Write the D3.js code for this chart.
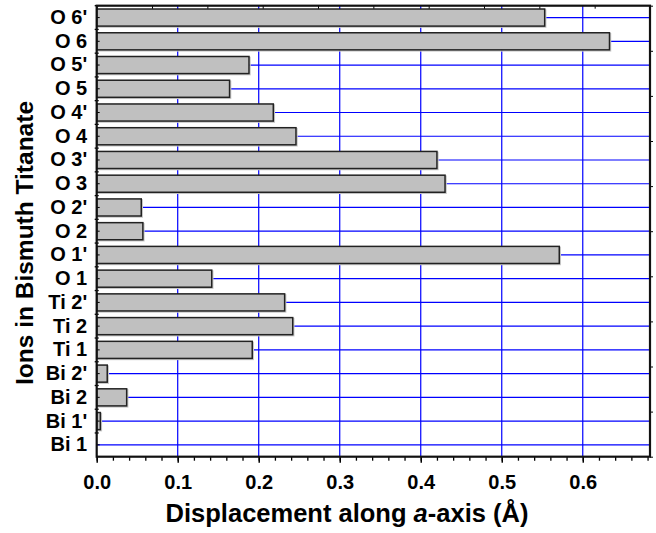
<!DOCTYPE html>
<html>
<head>
<meta charset="utf-8">
<script src="https://cdn.jsdelivr.net/npm/d3@7"></script>
<style>
  body { margin: 0; background: #fff; }
  text { font-family: "Liberation Sans", Arial, sans-serif; font-weight: bold; }
</style>
</head>
<body>
<div id="chart"></div>
<script>
// ions, top to bottom as in the picture
var ions = ["O 6'", "O 6", "O 5'", "O 5", "O 4'", "O 4", "O 3'", "O 3", "O 2'", "O 2",
            "O 1'", "O 1", "Ti 2'", "Ti 2", "Ti 1", "Bi 2'", "Bi 2", "Bi 1'", "Bi 1"];

// displacement along a-axis (Angstrom)
var displacement = [0.553, 0.633, 0.188, 0.164, 0.218, 0.246, 0.420, 0.430, 0.055, 0.057,
                    0.571, 0.142, 0.232, 0.242, 0.192, 0.013, 0.037, 0.0045, 0.0];

var xMajorTicks = [0.0, 0.1, 0.2, 0.3, 0.4, 0.5, 0.6];
var xMinorTicks = [0.00, 0.02, 0.04, 0.06, 0.08, 0.10, 0.12, 0.14, 0.16, 0.18, 0.20, 0.22,
                   0.24, 0.26, 0.28, 0.30, 0.32, 0.34, 0.36, 0.38, 0.40, 0.42, 0.44, 0.46,
                   0.48, 0.50, 0.52, 0.54, 0.56, 0.58, 0.60, 0.62, 0.64, 0.66, 0.68];
var xMax = 0.683;

var width = 656, height = 533;
var plotLeft = 96.7, plotRight = 650, plotTop = 5.7, plotBottom = 456.7;

var svg = d3.select("#chart").append("svg")
    .attr("width", width)
    .attr("height", height);

var x = d3.scaleLinear().domain([0, xMax]).range([plotLeft, plotRight]);
var y = d3.scaleBand().domain(ions).range([plotTop, plotBottom])
    .paddingInner(0.28).paddingOuter(0.14);

// vertical grid lines
svg.append("g").selectAll("line")
    .data(xMajorTicks.slice(1))
    .enter().append("line")
      .attr("x1", function(d) { return x(d); })
      .attr("x2", function(d) { return x(d); })
      .attr("y1", plotTop)
      .attr("y2", plotBottom)
      .attr("stroke", "#0000ff")
      .attr("stroke-width", 1.2);

// horizontal grid lines through each row
svg.append("g").selectAll("line")
    .data(ions)
    .enter().append("line")
      .attr("x1", plotLeft)
      .attr("x2", plotRight)
      .attr("y1", function(d) { return y(d) + y.bandwidth() / 2; })
      .attr("y2", function(d) { return y(d) + y.bandwidth() / 2; })
      .attr("stroke", "#0000ff")
      .attr("stroke-width", 1.2);

// bars
var rows = ions.map(function(d, i) { return { ion: d, v: displacement[i] }; })
    .filter(function(d) { return d.v > 0; });

// faint shadow under each bar
svg.append("g").selectAll("rect")
    .data(rows)
    .enter().append("rect")
      .attr("x", x(0) + 1)
      .attr("y", function(d) { return y(d.ion) + 1; })
      .attr("width", function(d) { return x(d.v) - x(0); })
      .attr("height", y.bandwidth())
      .attr("fill", "none")
      .attr("stroke", "#c8c8c8")
      .attr("stroke-width", 1.5);

svg.append("g").selectAll("rect")
    .data(rows)
    .enter().append("rect")
      .attr("x", x(0))
      .attr("y", function(d) { return y(d.ion); })
      .attr("width", function(d) { return x(d.v) - x(0); })
      .attr("height", y.bandwidth())
      .attr("fill", "#c0c0c0")
      .attr("stroke", "#222")
      .attr("stroke-width", 1.5);

// bottom axis: minor ticks then major ticks with labels
svg.append("g")
    .attr("transform", "translate(0," + plotBottom + ")")
    .call(d3.axisBottom(x).tickValues(xMinorTicks).tickSize(4).tickFormat(""))
    .call(function(g) { g.select(".domain").remove(); })
    .selectAll("line").attr("stroke-width", 1.3);

var xAxis = svg.append("g")
    .attr("transform", "translate(0," + plotBottom + ")")
    .call(d3.axisBottom(x).tickValues(xMajorTicks).tickSize(6).tickPadding(12).tickFormat(d3.format(".1f")));
xAxis.select(".domain").remove();
xAxis.selectAll("line").attr("stroke-width", 1.5);
xAxis.selectAll("text").attr("font-size", 20).attr("fill", "#000");

// left axis: labels and small ticks
var yAxis = svg.append("g")
    .attr("transform", "translate(" + plotLeft + ",0)")
    .call(d3.axisLeft(y).tickSize(-3).tickPadding(9.5));
yAxis.select(".domain").remove();
yAxis.selectAll("text").attr("font-size", 20).attr("fill", "#000");

// small ticks at row boundaries
svg.append("g").selectAll("line")
    .data(ions)
    .enter().append("line")
      .attr("x1", plotLeft - 2)
      .attr("x2", plotLeft + 2)
      .attr("y1", function(d) { return y(d) - y.step() * 0.14; })
      .attr("y2", function(d) { return y(d) - y.step() * 0.14; })
      .attr("stroke", "#000")
      .attr("stroke-width", 1.3);

// top and right axes: small ticks at tenths of the frame
var xTop = d3.scaleLinear().domain([0, 10]).range([plotLeft, plotRight]);
svg.append("g")
    .attr("transform", "translate(0," + plotTop + ")")
    .call(d3.axisTop(xTop).ticks(10).tickSize(-3).tickFormat(""))
    .call(function(g) { g.select(".domain").remove(); });

var yRight = d3.scaleLinear().domain([0, 10]).range([plotTop, plotBottom]);
svg.append("g")
    .attr("transform", "translate(" + plotRight + ",0)")
    .call(d3.axisRight(yRight).ticks(10).tickSize(3).tickFormat(""))
    .call(function(g) { g.select(".domain").remove(); });

// frame
svg.append("rect")
    .attr("x", plotLeft)
    .attr("y", plotTop)
    .attr("width", plotRight - plotLeft)
    .attr("height", plotBottom - plotTop)
    .attr("fill", "none")
    .attr("stroke", "#111")
    .attr("stroke-width", 2.2);

// axis titles
var xTitle = svg.append("text")
    .attr("x", 347)
    .attr("y", 522)
    .attr("text-anchor", "middle")
    .attr("font-size", 25.5)
    .attr("fill", "#000");
xTitle.append("tspan").text("Displacement along ");
xTitle.append("tspan").attr("font-style", "italic").text("a");
xTitle.append("tspan").text("-axis (Å)");

svg.append("text")
    .attr("transform", "translate(33,243) rotate(-90)")
    .attr("text-anchor", "middle")
    .attr("font-size", 24.5)
    .attr("fill", "#000")
    .text("Ions in Bismuth Titanate");
</script>
</body>
</html>
